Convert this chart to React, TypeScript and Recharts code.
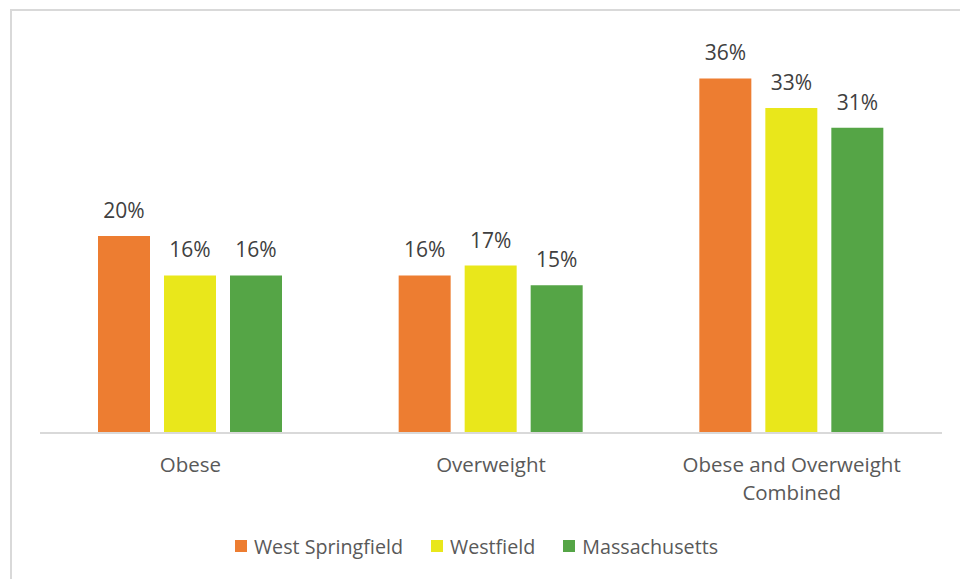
import React from 'react';
import { BarChart, Bar, XAxis, YAxis, Legend, LabelList, Text } from 'recharts';

const categories = ['Obese', 'Overweight', 'Obese and Overweight Combined'];
const westSpringfield = [20, 16, 36];
const westfield = [16, 17, 33];
const massachusetts = [16, 15, 31];

const seriesNames = ['West Springfield', 'Westfield', 'Massachusetts'];
const seriesKeys = ['ws', 'wf', 'ma'];
const COLORS = ['#ED7D31', '#E9E71B', '#55A546'];

const data = categories.map((name, i) => ({
  name,
  ws: westSpringfield[i],
  wf: westfield[i],
  ma: massachusetts[i],
}));

const FONT = '"Open Sans", sans-serif';

function CategoryTick(props: any) {
  const { x, y, payload } = props;
  return (
    <Text
      x={x}
      y={y + 16}
      width={235}
      textAnchor="middle"
      verticalAnchor="start"
      lineHeight={28}
      fill="#595959"
      style={{ fontSize: 20.5, fontFamily: FONT }}
    >
      {payload.value}
    </Text>
  );
}

function LegendContent() {
  return (
    <div style={{ display: 'flex', justifyContent: 'center', alignItems: 'center', height: 24, paddingRight: 29, fontFamily: FONT, fontSize: 19.7, color: '#595959' }}>
      {seriesNames.map((n, i) => (
        <div key={n} style={{ display: 'flex', alignItems: 'center', marginRight: i < seriesNames.length - 1 ? 28 : 0 }}>
          <span style={{ display: 'inline-block', width: 12, height: 12, background: COLORS[i], marginRight: 7 }} />
          <span>{n}</span>
        </div>
      ))}
    </div>
  );
}

export default function App() {
  return (
    <div style={{ position: 'fixed', left: 0, top: 0, width: 960, height: 579, overflow: 'hidden', background: '#fff' }}>
      <div style={{ position: 'absolute', left: 10, top: 9, width: 980, height: 600, border: '2px solid #D9D9D9', boxSizing: 'border-box' }} />
      <div style={{ position: 'absolute', left: 0, top: 0 }}>
        <BarChart
          width={960}
          height={579}
          data={data}
          margin={{ top: 39, right: 18, left: 40, bottom: 21 }}
          barSize={52}
          barGap={14}
        >
          <XAxis
            dataKey="name"
            height={101}
            axisLine={{ stroke: '#D9D9D9', strokeWidth: 2 }}
            tickLine={false}
            tick={(p: any) => <CategoryTick {...p} />}
            interval={0}
          />
          <YAxis hide domain={[0, 40]} />
          <Legend verticalAlign="bottom" height={24} content={<LegendContent />} />
          {seriesKeys.map((k, i) => (
            <Bar key={k} dataKey={k} name={seriesNames[i]} fill={COLORS[i]} isAnimationActive={false}>
              <LabelList
                dataKey={k}
                position="top"
                offset={18}
                formatter={(v: any) => `${v}%`}
                fill="#404040"
                fontSize={21}
                fontFamily={FONT}
              />
            </Bar>
          ))}
        </BarChart>
      </div>
    </div>
  );
}
